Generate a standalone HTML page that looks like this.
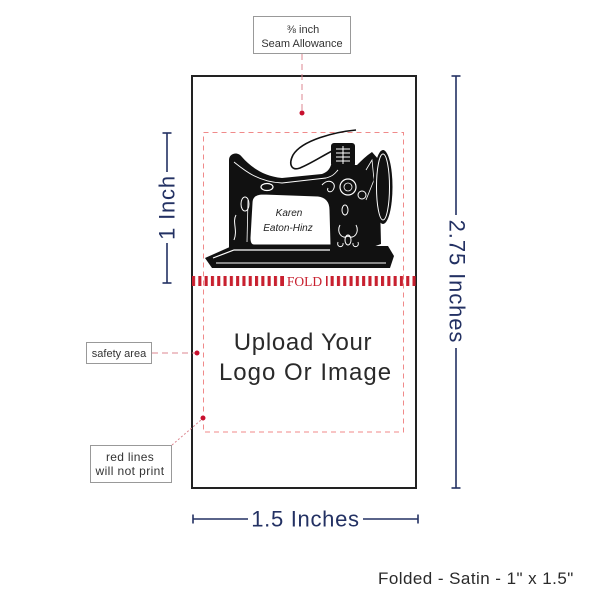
<!DOCTYPE html>
<html>
<head>
<meta charset="utf-8">
<style>
html,body{margin:0;padding:0;background:#fff;}
svg{display:block;}
text{font-family:"Liberation Sans",sans-serif;}
</style>
</head>
<body>
<svg width="600" height="600" viewBox="0 0 600 600" xmlns="http://www.w3.org/2000/svg">
<defs>
<pattern id="stripes" x="192" y="0" width="6.3" height="20" patternUnits="userSpaceOnUse">
<rect x="0" y="0" width="3.1" height="20" fill="#c8202f"/>
</pattern>
</defs>

<!-- Main tag -->
<rect x="192" y="76" width="224" height="412" fill="#fff" stroke="#222" stroke-width="2"/>

<!-- Seam allowance box -->
<rect x="253.5" y="16.5" width="97" height="37" fill="#fff" stroke="#999" stroke-width="1"/>
<text x="303" y="33" font-size="11" fill="#333" text-anchor="middle">⅜ inch</text>
<text x="302" y="47" font-size="11" fill="#333" text-anchor="middle">Seam Allowance</text>
<line x1="302" y1="54" x2="302" y2="111" stroke="#dc8790" stroke-width="1" stroke-dasharray="6 4"/>
<circle cx="302" cy="113" r="2.5" fill="#c8102e"/>

<!-- Safety rect -->
<rect x="203.5" y="132.5" width="200" height="299.5" fill="none" stroke="#f08a8a" stroke-width="1" stroke-dasharray="5 4"/>

<!-- Sewing machine -->
<g>
<path d="M356,130 C 335,132 302,140 293,155 C 288,165 292,171 300,168 C 312,163 322,156 334,150" fill="none" stroke="#111" stroke-width="1.6"/>
<path d="M232,246 L388,246 L394,256 L390,268 L212,268 L205,258 Z" fill="#111"/>
<path d="M213,258 L234,250 L330,250" fill="none" stroke="#fff" stroke-width="1.2"/>
<path d="M216,263 L386,263" fill="none" stroke="#fff" stroke-width="1"/>
<path d="M229,160 C229,153 238,151 242,157 C250,166 262,176 282,178 L322,174 C328,172 330,168 331,165 L357,165 C361,161 366,156 372,152 L379,160 L381,244 L370,248 L229,248 Z" fill="#111"/>
<path d="M234,162 C244,170 258,182 282,183 L326,178 C334,176 336,172 338,170" fill="none" stroke="#fff" stroke-width="0.9"/>
<path d="M252,203 C252,197 256,194 263,194 L318,196 C326,197 330,202 330,210 L331,245 L254,245 C251,245 250,242 250,238 Z" fill="#fff" stroke="#111" stroke-width="1"/>
<path d="M248,200 L247,242" stroke="#fff" stroke-width="0.8" fill="none"/>
<ellipse cx="245" cy="204" rx="4" ry="7" fill="none" stroke="#fff" stroke-width="1"/>
<path d="M236,215 C232,222 238,230 234,240" fill="none" stroke="#fff" stroke-width="1"/>
<ellipse cx="267" cy="187" rx="6" ry="3.5" fill="none" stroke="#fff" stroke-width="1.2"/>
<circle cx="348" cy="187" r="8" fill="none" stroke="#fff" stroke-width="1.2"/>
<circle cx="348" cy="187" r="4" fill="none" stroke="#fff" stroke-width="0.8"/>
<path d="M322,185 C328,178 336,182 334,188 C332,194 326,192 328,188" fill="none" stroke="#fff" stroke-width="1"/>
<circle cx="362" cy="195" r="4" fill="none" stroke="#fff" stroke-width="1"/>
<ellipse cx="345" cy="210" rx="3" ry="5" fill="none" stroke="#fff" stroke-width="1"/>
<path d="M340,225 C336,232 342,240 348,236 C354,240 360,232 356,225" fill="none" stroke="#fff" stroke-width="1"/>
<ellipse cx="348" cy="240" rx="3" ry="5" fill="none" stroke="#fff" stroke-width="1"/>
<path d="M338,242 C336,248 344,248 343,243 M358,242 C360,248 352,248 353,243" fill="none" stroke="#fff" stroke-width="0.9"/>
<path d="M366,170 L372,160 L374,180 L366,200" fill="none" stroke="#fff" stroke-width="0.8"/>
<rect x="331" y="143" width="24" height="24" rx="3" fill="#111"/>
<path d="M336,149 H350 M336,153 H350 M336,157 H350 M336,161 H350 M343,146 V164" stroke="#fff" stroke-width="1"/>
<ellipse cx="383" cy="187" rx="9.5" ry="37" fill="#111"/>
<ellipse cx="383" cy="187" rx="6.5" ry="33" fill="none" stroke="#fff" stroke-width="1"/>
<text x="289" y="216" font-size="10" fill="#222" text-anchor="middle" font-style="italic">Karen</text>
<text x="288" y="231" font-size="10" fill="#222" text-anchor="middle" font-style="italic">Eaton-Hinz</text>
</g>

<!-- Fold band -->
<rect x="192" y="276" width="92" height="10" fill="url(#stripes)"/>
<rect x="281" y="276" width="3" height="10" fill="#c8202f"/>
<rect x="326" y="276" width="1.6" height="10" fill="#c8202f"/>
<rect x="330" y="276" width="86" height="10" fill="url(#stripes)"/>
<text x="304.5" y="286" font-size="13.5" fill="#c8202f" text-anchor="middle" style="font-family:'Liberation Serif',serif">FOLD</text>

<!-- Upload text -->
<text x="303" y="350" font-size="24" fill="#2a2a2a" text-anchor="middle" letter-spacing="0.7">Upload Your</text>
<text x="305.5" y="380" font-size="24" fill="#2a2a2a" text-anchor="middle" letter-spacing="1">Logo Or Image</text>

<!-- Safety area label -->
<rect x="86.5" y="342.5" width="65" height="21" fill="#fff" stroke="#999" stroke-width="1"/>
<text x="119" y="357" font-size="11" fill="#333" text-anchor="middle">safety area</text>
<line x1="152" y1="353" x2="195" y2="353" stroke="#dc8790" stroke-width="1" stroke-dasharray="6 4"/>
<circle cx="197" cy="353" r="2.5" fill="#c8102e"/>

<!-- Red lines label -->
<rect x="90.5" y="445.5" width="81" height="37" fill="#fff" stroke="#999" stroke-width="1"/>
<text x="130" y="461" font-size="12" fill="#333" text-anchor="middle" letter-spacing="0.3">red lines</text>
<text x="130" y="475" font-size="12" fill="#333" text-anchor="middle" letter-spacing="0.4">will not print</text>
<line x1="172" y1="445" x2="201" y2="420" stroke="#dc8790" stroke-width="1" stroke-dasharray="2 2"/>
<circle cx="203" cy="418" r="2.5" fill="#c8102e"/>

<!-- 1 Inch dimension -->
<g stroke="#233163" stroke-width="1.6">
<line x1="167" y1="133" x2="167" y2="172"/>
<line x1="167" y1="243" x2="167" y2="283"/>
<line x1="162.5" y1="133" x2="171.5" y2="133"/>
<line x1="162.5" y1="283" x2="171.5" y2="283"/>
</g>
<text transform="translate(167,207.5) rotate(-90)" font-size="22" fill="#233163" text-anchor="middle" dominant-baseline="central" letter-spacing="0.8">1 Inch</text>

<!-- 2.75 Inches dimension -->
<g stroke="#233163" stroke-width="1.6">
<line x1="456" y1="76" x2="456" y2="215"/>
<line x1="456" y1="348" x2="456" y2="488"/>
<line x1="451.5" y1="76" x2="460.5" y2="76"/>
<line x1="451.5" y1="488" x2="460.5" y2="488"/>
</g>
<text transform="translate(457,281.5) rotate(90)" font-size="22" fill="#233163" text-anchor="middle" dominant-baseline="central" letter-spacing="0.9">2.75 Inches</text>

<!-- 1.5 Inches dimension -->
<g stroke="#233163" stroke-width="1.6">
<line x1="193" y1="519" x2="248" y2="519"/>
<line x1="363" y1="519" x2="418" y2="519"/>
<line x1="193" y1="514.5" x2="193" y2="523.5"/>
<line x1="418" y1="514.5" x2="418" y2="523.5"/>
</g>
<text x="305.5" y="526.5" font-size="22" fill="#233163" text-anchor="middle" letter-spacing="0.7">1.5 Inches</text>

<!-- Footer -->
<text x="378" y="584" font-size="17" fill="#2a2a2a" letter-spacing="0.45">Folded - Satin - 1" x 1.5"</text>
</svg>
</body>
</html>
